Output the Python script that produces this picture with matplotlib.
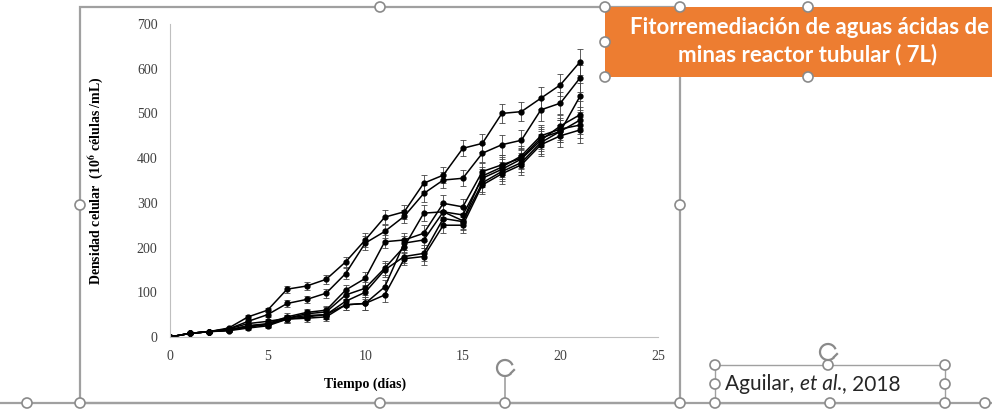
import numpy as np
import matplotlib
matplotlib.use('Agg')
import matplotlib.pyplot as plt
from matplotlib.patches import Rectangle, Circle, Arc

plt.rcParams['mathtext.fontset'] = 'stix'

# dias de cultivo
dias = list(range(0, 22))

# densidad celular (10^6 celulas/mL)
serie_a = [0, 8, 12, 20, 45, 60, 107, 114, 129, 168, 217, 268, 280, 344, 362, 422, 433, 500, 504, 534, 564, 615]
serie_b = [0, 8, 12, 18, 35, 50, 75, 84, 98, 142, 210, 236, 270, 321, 351, 355, 411, 430, 440, 508, 523, 579]
serie_c = [0, 8, 12, 15, 25, 30, 45, 55, 60, 105, 131, 213, 217, 232, 299, 291, 370, 385, 400, 445, 460, 538]
serie_d = [0, 8, 12, 16, 25, 28, 42, 52, 56, 94, 109, 154, 202, 277, 280, 273, 355, 375, 398, 440, 472, 497]
serie_e = [0, 8, 12, 15, 22, 28, 40, 45, 50, 80, 100, 150, 180, 187, 265, 258, 345, 370, 390, 435, 460, 485]
serie_f = [0, 8, 12, 18, 30, 35, 42, 48, 50, 72, 75, 112, 210, 217, 280, 260, 360, 380, 405, 450, 465, 474]
serie_g = [0, 8, 12, 14, 20, 25, 40, 42, 45, 72, 75, 94, 175, 180, 250, 250, 340, 365, 385, 430, 450, 463]
series = [serie_a, serie_b, serie_c, serie_d, serie_e, serie_f, serie_g]
error = [0, 2, 2, 3, 5, 5, 8, 8, 10, 12, 15, 15, 15, 18, 18, 18, 20, 22, 22, 25, 25, 30]

x_ticks = [0, 5, 10, 15, 20, 25]
y_ticks = [0, 100, 200, 300, 400, 500, 600, 700]

titulo = 'Fitorremediación de aguas ácidas de\nminas reactor tubular ( 7L)'

W, H = 992, 409
fig = plt.figure(figsize=(W / 100, H / 100), dpi=100)
fig.patch.set_facecolor('white')

# capa de la diapositiva (coordenadas en pixeles)
bg = fig.add_axes([0, 0, 1, 1])
bg.set_xlim(0, W); bg.set_ylim(H, 0); bg.axis('off')
gris = '#a0a0a0'
bg.add_patch(Rectangle((80, 7), 600, 396, fill=False, ec=gris, lw=1.6))
bg.plot([0, W], [403, 403], color=gris, lw=1.6)
bg.plot([505, 505], [378, 403], color=gris, lw=1.2)
bg.plot([828, 828], [360, 365], color=gris, lw=1.2)
bg.add_patch(Rectangle((715, 365), 230, 38, fill=False, ec=gris, lw=1.0))
bg.add_patch(Rectangle((605, 7), 420, 70, fc='#ED7D31', ec='none', zorder=3))
bg.text(810, 28, titulo.split('\n')[0], color='white', fontsize=16, fontweight='bold',
        family='Lato', ha='center', va='center', zorder=4)
bg.text(808, 55, titulo.split('\n')[1], color='white', fontsize=16, fontweight='bold',
        family='Lato', ha='center', va='center', zorder=4)
t = bg.text(725, 384, 'Aguilar, ', color='#262626', fontsize=15, family='Lato', va='center')
fig.canvas.draw()
bb = t.get_window_extent()
t2 = bg.text(bb.x1, H - 384, 'et al.', color='#262626', fontsize=15, family='Lato', style='italic',
             va='center', transform=None)
bb2 = t2.get_window_extent()
bg.text(bb2.x1, H - 384, ', 2018', color='#262626', fontsize=15, family='Lato', va='center', transform=None)

handles = [(380, 7), (80, 205), (680, 205), (27, 403), (80, 403), (380, 403), (505, 403), (680, 403),
           (715, 403), (830, 403), (945, 403), (985, 403), (715, 365), (828, 365), (945, 365),
           (715, 384), (945, 384), (605, 42), (605, 77), (808, 77), (605, 7), (808, 7), (680, 7)]
for hx, hy in handles:
    bg.add_patch(Circle((hx, hy), 5, fc='white', ec='#8a8a8a', lw=1.2, zorder=5))
for rx, ry in [(505, 368), (828, 352)]:
    bg.add_patch(Arc((rx, ry), 16, 16, theta1=40, theta2=340, color='#8a8a8a', lw=1.6, zorder=5))
    bg.plot([rx + 6, rx + 9], [ry + 5, ry + 2], color='#8a8a8a', lw=1.6, zorder=5)

# grafico de crecimiento
ax = fig.add_axes([170 / W, 1 - 337 / H, 488 / W, 313 / H])
ax.set_facecolor('none')
for s in series:
    ax.errorbar(dias, s, yerr=error, color='black', lw=1.1, marker='o', ms=3.5,
                elinewidth=0.6, capsize=2, capthick=0.6, ecolor='#444444')
ax.set_xlim(0, 25); ax.set_ylim(0, 700)
ax.set_xticks(x_ticks); ax.set_yticks(y_ticks)
for sp in ['top', 'right']:
    ax.spines[sp].set_visible(False)
for sp in ['left', 'bottom']:
    ax.spines[sp].set_color('#bfbfbf')
ax.tick_params(length=0, labelsize=10, labelcolor='#404040', pad=9)
for lab in ax.get_xticklabels() + ax.get_yticklabels():
    lab.set_family('Liberation Serif')
ax.set_xlabel('Tiempo (días)', family='Liberation Serif', fontweight='bold', fontsize=10)
ax.set_ylabel(r'Densidad celular  (10$^{\mathbf{6}}$ células /mL)', family='Liberation Serif',
              fontweight='bold', fontsize=10)
ax.xaxis.set_label_coords(0.40, -0.131)
ax.yaxis.set_label_coords(-0.133, 0.5)

fig.savefig('out.png', dpi=100)
